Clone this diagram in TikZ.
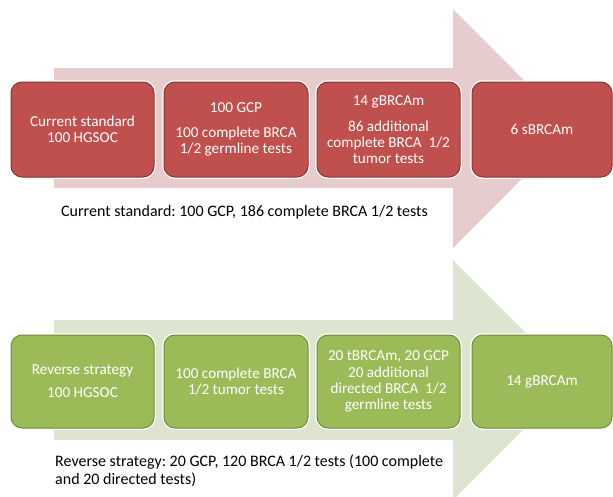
\documentclass[tikz,border=0pt]{standalone}
\usepackage{fontspec}
\setmainfont{Carlito}
\frenchspacing
\begin{document}
\begin{tikzpicture}[x=1pt,y=-1pt,
  redarrow/.style={fill=arrowred,draw=none},
  greenarrow/.style={fill=arrowgreen,draw=none},
  boxbase/.style={rounded corners=11pt,minimum height=95pt,inner sep=1pt,
     align=center,text=white,font=\fontsize{15.2}{16}\selectfont,
     line width=1pt,preaction={draw=white,line width=3.5pt}},
  redbox/.style={boxbase,fill=boxred,draw=borderred},
  greenbox/.style={boxbase,fill=boxgreen,draw=bordergreen,minimum height=93pt},
  caption/.style={anchor=west,inner sep=0pt,font=\fontsize{16}{18.5}\selectfont,align=left,text=black}
]
\definecolor{arrowred}{RGB}{230,204,205}
\definecolor{arrowgreen}{RGB}{221,229,208}
\definecolor{boxred}{RGB}{192,80,77}
\definecolor{borderred}{RGB}{140,50,48}
\definecolor{boxgreen}{RGB}{155,187,89}
\definecolor{bordergreen}{RGB}{110,140,55}
\useasboundingbox (0,0) rectangle (613,496);
\begin{scope}
\clip (0,0) rectangle (613,496);
% red arrow
\fill[redarrow] (54,68) -- (453,68) -- (453,9) -- (572,128.5) -- (453,248) -- (453,188) -- (54,188) -- cycle;
% green arrow
\fill[greenarrow] (54,320) -- (453,320) -- (453,260) -- (573,380) -- (453,500) -- (453,440) -- (54,440) -- cycle;

% red boxes
\node[redbox,minimum width=143pt] (r1) at (82.5,129.5) {Current standard\\100 HGSOC};
\node[redbox,minimum width=144pt] (r2) at (236,129.5) {100 GCP\\[9pt]100 complete BRCA\\1/2 germline tests};
\node[redbox,minimum width=143pt] (r3) at (388.5,129.5) {14 gBRCAm\\[10pt]86 additional\\complete BRCA\ \ 1/2\\tumor tests};
\node[redbox,minimum width=140pt] (r4) at (542,129.5) {6 sBRCAm};

% green boxes
\node[greenbox,minimum width=143pt] (g1) at (82.5,381.5) {Reverse strategy\\[7pt]100 HGSOC};
\node[greenbox,minimum width=144pt] (g2) at (236,381.5) {100 complete BRCA\\1/2 tumor tests};
\node[greenbox,minimum width=143pt] (g3) at (388.5,381.5) {20 tBRCAm, 20 GCP\\[1pt]20 additional\\directed BRCA\ \ 1/2\\germline tests};
\node[greenbox,minimum width=140pt] (g4) at (542,381.5) {14 gBRCAm};
\end{scope}

% captions
\node[caption] (capr) at (61,212) {Current standard: 100 GCP, 186 complete BRCA 1/2 tests};
\node[caption] (capg) at (55,471) {Reverse strategy: 20 GCP, 120 BRCA 1/2 tests (100 complete\\and 20 directed tests)};
\end{tikzpicture}
\end{document}
